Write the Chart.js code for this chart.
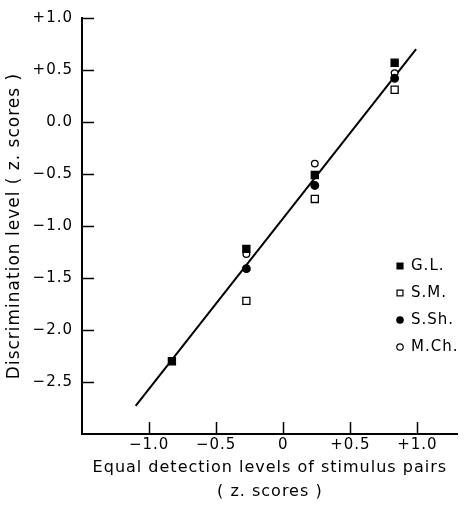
<!DOCTYPE html>
<html>
<head>
<meta charset="utf-8">
<script src="https://cdn.jsdelivr.net/npm/chart.js@4.4.1/dist/chart.umd.min.js"></script>
<style>
  html, body { margin: 0; padding: 0; background: #fff; }
  canvas { display: block; }
</style>
</head>
<body>
<canvas id="myChart" width="464" height="509"></canvas>
<script>
// tick values
const xTicks = [-1.0, -0.5, 0, 0.5, 1.0];
const yTicks = [1.0, 0.5, 0, -0.5, -1.0, -1.5, -2.0, -2.5];

// equal detection levels (x) and discrimination levels (y), z scores
const glX = [-0.83, -0.275, 0.235, 0.83];
const glY = [-2.30, -1.22, -0.51, 0.57];
const pairX = [-0.275, 0.235, 0.83];
const smY = [-1.72, -0.74, 0.31];
const sshY = [-1.41, -0.61, 0.42];
const mchY = [-1.27, -0.40, 0.47];

// fitted line end points
const fitX = [-1.10, 0.99];
const fitY = [-2.73, 0.70];

const FONT = 'DejaVu Sans';

function pts(xs, ys) {
    return xs.map((v, i) => ({ x: v, y: ys[i] }));
}

function fmtSigned(v, digits) {
    if (v === 0) return digits ? '0.0' : '0';
    const s = Math.abs(v).toFixed(1);
    return (v > 0 ? '+' : '\u2212') + s;
}

// the old typeface is set wide
const spacing = {
    id: 'spacing',
    beforeUpdate(chart) { chart.ctx.letterSpacing = '1px'; },
    beforeDraw(chart) { chart.ctx.letterSpacing = '1px'; }
};

// inner ticks on both axes
const innerTicks = {
    id: 'innerTicks',
    afterDraw(chart) {
        const { ctx, scales: { x, y } } = chart;
        ctx.save();
        ctx.strokeStyle = '#000';
        ctx.lineWidth = 1.5;
        xTicks.forEach(v => {
            const px = Math.round(x.getPixelForValue(v)) + 0.5;
            ctx.beginPath();
            ctx.moveTo(px, y.bottom);
            ctx.lineTo(px, y.bottom - 12);
            ctx.stroke();
        });
        yTicks.forEach(v => {
            const py = Math.round(y.getPixelForValue(v)) + 0.5;
            ctx.beginPath();
            ctx.moveTo(x.left, py);
            ctx.lineTo(x.left + 12, py);
            ctx.stroke();
        });
        ctx.restore();
    }
};

// legend inside the plot, lower right
const innerLegend = {
    id: 'innerLegend',
    afterDraw(chart) {
        const { ctx } = chart;
        ctx.save();
        ctx.font = '15px "' + FONT + '"';
        ctx.textBaseline = 'middle';
        let row = 0;
        chart.data.datasets.forEach(ds => {
            if (ds.isFit) return;
            const yy = 266 + row * 27;
            ctx.fillStyle = ds.pointBackgroundColor;
            ctx.strokeStyle = '#000';
            ctx.lineWidth = 1.2;
            Chart.helpers.drawPoint(ctx, {
                pointStyle: ds.pointStyle,
                radius: ds.pointStyle === 'rect' ? 4.2 : 3.2,
                rotation: 0,
                borderWidth: 1.2
            }, 400, yy);
            ctx.fillStyle = '#000';
            ctx.fillText(ds.label, 411, yy);
            row++;
        });
        ctx.restore();
    }
};

function markerSet(label, data, style, filled) {
    return {
        label: label,
        data: data,
        pointStyle: style,
        pointRadius: style === 'rect' ? 5 : (filled ? 3.8 : 3.3),
        pointBackgroundColor: filled ? '#000' : '#fff',
        pointBorderColor: '#000',
        pointBorderWidth: 1.3,
        showLine: false
    };
}

const ctx = document.getElementById('myChart');

new Chart(ctx, {
    type: 'scatter',
    data: {
        datasets: [
            {
                label: 'fit',
                isFit: true,
                data: pts(fitX, fitY),
                showLine: true,
                borderColor: '#000',
                borderWidth: 2,
                pointRadius: 0,
                order: 5
            },
            markerSet('G.L.', pts(glX, glY), 'rect', true),
            markerSet('S.M.', pts(pairX, smY), 'rect', false),
            markerSet('S.Sh.', pts(pairX, sshY), 'circle', true),
            markerSet('M.Ch.', pts(pairX, mchY), 'circle', false)
        ]
    },
    options: {
        responsive: false,
        animation: false,
        layout: { padding: { top: 17, right: 3, left: 0, bottom: 0 } },
        plugins: {
            legend: { display: false },
            tooltip: { enabled: false }
        },
        scales: {
            x: {
                type: 'linear',
                min: -1.5,
                max: 1.3,
                afterBuildTicks: s => { s.ticks = xTicks.map(v => ({ value: v })); },
                afterFit: s => { s.height = 75; },
                grid: { display: true, drawOnChartArea: false, drawTicks: false },
                border: { display: true, color: '#000', width: 2 },
                ticks: {
                    color: '#000',
                    padding: 2,
                    maxRotation: 0,
                    font: { family: FONT, size: 15 },
                    callback: v => fmtSigned(v, false)
                },
                title: {
                    display: true,
                    text: ['Equal detection levels of stimulus pairs', '( z. scores )'],
                    color: '#000',
                    padding: { top: 0, bottom: 5 },
                    font: { family: FONT, size: 16, lineHeight: 1.5 }
                }
            },
            y: {
                type: 'linear',
                min: -3.0,
                max: 1.0,
                afterBuildTicks: s => { s.ticks = yTicks.map(v => ({ value: v })); },
                afterFit: s => { s.width = 82; },
                grid: { display: true, drawOnChartArea: false, drawTicks: false },
                border: { display: true, color: '#000', width: 2 },
                ticks: {
                    color: '#000',
                    padding: 9,
                    font: { family: FONT, size: 15 },
                    callback: v => fmtSigned(v, true)
                },
                title: {
                    display: true,
                    text: 'Discrimination level ( z. scores )',
                    color: '#000',
                    padding: { top: 4, bottom: 0 },
                    font: { family: FONT, size: 17 }
                }
            }
        }
    },
    plugins: [spacing, innerTicks, innerLegend]
});
</script>
</body>
</html>
